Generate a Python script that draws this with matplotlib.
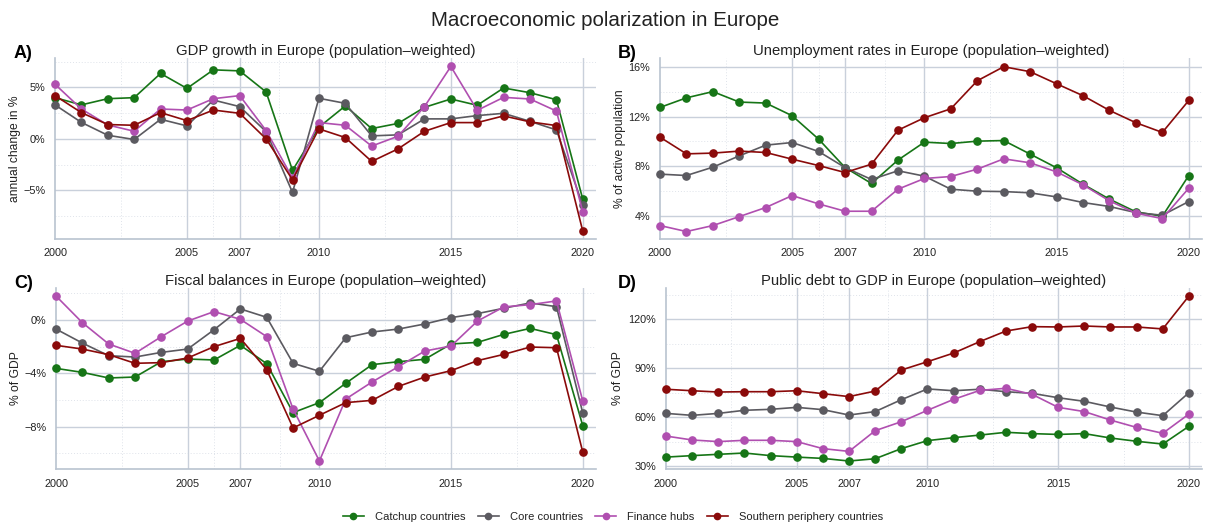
import matplotlib
matplotlib.use("Agg")
import matplotlib.pyplot as plt
from matplotlib.lines import Line2D

plt.rcParams['font.family'] = ['Liberation Sans', 'DejaVu Sans']

years = list(range(2000, 2021))
groups = ["Catchup countries", "Core countries", "Finance hubs", "Southern periphery countries"]
colors = ["#167516", "#5b5a60", "#b04fb0", "#8a0a0a"]

gdp_catchup = [4.0, 3.3, 3.9, 4.0, 6.35, 4.9, 6.7, 6.6, 4.55, -3.06, 1.13, 3.2, 1.0, 1.5, 3.06, 3.87, 3.26, 4.94, 4.48, 3.8, -5.87]
gdp_core = [3.3, 1.6, 0.35, -0.06, 1.9, 1.26, 3.77, 3.13, 0.7, -5.2, 3.94, 3.45, 0.29, 0.39, 1.94, 1.94, 2.26, 2.48, 1.7, 0.87, -6.45]
gdp_finance = [5.3, 2.9, 1.35, 0.74, 2.9, 2.8, 3.9, 4.2, 0.8, -3.8, 1.58, 1.32, -0.7, 0.26, 3.13, 7.03, 2.77, 4.03, 3.87, 2.7, -7.1]
gdp_south = [4.2, 2.55, 1.39, 1.32, 2.55, 1.77, 2.8, 2.48, 0.0, -3.97, 0.97, 0.13, -2.19, -0.97, 0.74, 1.58, 1.58, 2.23, 1.65, 1.29, -8.97]

unemp_catchup = [12.73, 13.5, 14.0, 13.16, 13.08, 12.06, 10.18, 7.9, 6.62, 8.5, 9.94, 9.83, 10.02, 10.07, 8.98, 7.88, 6.56, 5.36, 4.34, 3.99, 7.26]
unemp_core = [7.37, 7.26, 7.93, 8.84, 9.7, 9.91, 9.19, 7.9, 6.94, 7.64, 7.21, 6.16, 6.0, 5.97, 5.87, 5.54, 5.09, 4.77, 4.28, 4.07, 5.17]
unemp_finance = [3.24, 2.76, 3.24, 3.96, 4.69, 5.65, 4.98, 4.39, 4.39, 6.16, 7.02, 7.18, 7.77, 8.6, 8.28, 7.55, 6.51, 5.22, 4.23, 3.8, 6.24]
unemp_south = [10.34, 9.0, 9.06, 9.22, 9.11, 8.57, 8.06, 7.5, 8.17, 10.9, 11.9, 12.62, 14.87, 16.0, 15.6, 14.63, 13.67, 12.49, 11.5, 10.72, 13.29]

fisc_catchup = [-3.63, -3.93, -4.35, -4.28, -3.13, -2.93, -3.0, -1.9, -3.28, -6.95, -6.2, -4.75, -3.35, -3.13, -2.95, -1.8, -1.68, -1.08, -0.63, -1.1, -7.95]
fisc_core = [-0.68, -1.73, -2.68, -2.78, -2.43, -2.18, -0.73, 0.83, 0.2, -3.25, -3.85, -1.33, -0.9, -0.68, -0.3, 0.18, 0.48, 0.88, 1.28, 1.0, -7.0]
fisc_finance = [1.8, -0.2, -1.8, -2.5, -1.25, -0.08, 0.63, 0.05, -1.25, -6.68, -10.58, -5.93, -4.65, -3.5, -2.33, -1.95, -0.08, 0.98, 1.15, 1.43, -6.1]
fisc_south = [-1.9, -2.18, -2.6, -3.25, -3.2, -2.85, -2.0, -1.38, -3.73, -8.1, -7.15, -6.2, -6.03, -4.98, -4.28, -3.8, -3.05, -2.58, -2.03, -2.08, -9.93]

debt_catchup = [35.5, 36.4, 37.2, 38.0, 36.4, 35.5, 34.7, 33.1, 34.5, 40.7, 45.6, 47.4, 49.0, 50.7, 49.9, 49.4, 49.9, 47.2, 45.2, 43.5, 54.4]
debt_core = [62.3, 61.1, 62.3, 64.2, 64.8, 66.0, 64.6, 61.3, 63.4, 70.7, 77.3, 76.2, 77.1, 75.6, 74.6, 71.9, 69.7, 66.2, 63.1, 60.9, 75.0]
debt_finance = [48.4, 46.0, 45.0, 45.8, 45.8, 45.0, 40.7, 39.0, 51.7, 57.2, 64.2, 70.9, 76.4, 77.7, 74.0, 66.0, 63.4, 58.2, 53.7, 50.1, 61.9]
debt_south = [77.1, 76.2, 75.4, 75.6, 75.6, 76.2, 74.4, 72.6, 76.0, 88.9, 94.0, 99.3, 106.3, 112.8, 115.5, 115.3, 115.9, 115.3, 115.3, 114.1, 134.3]

xticks = [2000, 2005, 2007, 2010, 2015, 2020]
xminor = [2002.5, 2006, 2008.5, 2012.5, 2017.5]

W, H = 1210, 527
fig = plt.figure(figsize=(W / 100, H / 100), dpi=100)

GRID = "#c9d0db"
MINOR = "#dfe3ea"
SPINE = "#b9c3d0"


def make_axes(l, r, t, b):
    return fig.add_axes([l / W, 1 - b / H, (r - l) / W, (b - t) / H])


panels = [
    dict(box=(55, 596, 58, 238.5), data=[gdp_catchup, gdp_core, gdp_finance, gdp_south],
         ylim=(-9.67, 7.85), yt=[-5, 0, 5], ymin=[-7.5, -2.5, 2.5, 7.5],
         ylabel="annual change in %", title="GDP growth in Europe (population\u2013weighted)",
         tag="A)", tagx=14, ylx=15),
    dict(box=(660, 1202, 58, 238.5), data=[unemp_catchup, unemp_core, unemp_finance, unemp_south],
         ylim=(2.2, 16.7), yt=[4, 8, 12, 16], ymin=[6, 10, 14],
         ylabel="% of active population", title="Unemployment rates in Europe (population\u2013weighted)",
         tag="B)", tagx=618, ylx=620),
    dict(box=(56, 596, 288, 469), data=[fisc_catchup, fisc_core, fisc_finance, fisc_south],
         ylim=(-11.18, 2.4), yt=[-8, -4, 0], ymin=[-10, -6, -2, 2],
         ylabel="% of GDP", title="Fiscal balances in Europe (population\u2013weighted)",
         tag="C)", tagx=14, ylx=16),
    dict(box=(666, 1202, 288, 469), data=[debt_catchup, debt_core, debt_finance, debt_south],
         ylim=(28.2, 139.2), yt=[30, 60, 90, 120], ymin=[45, 75, 105, 135],
         ylabel="% of GDP", title="Public debt to GDP in Europe (population\u2013weighted)",
         tag="D)", tagx=618, ylx=618),
]

for p in panels:
    l, r, t, b = p["box"]
    ax = make_axes(l, r, t, b)
    ax.set_xlim(2000, 2020.5)
    ax.set_ylim(*p["ylim"])
    for yv in p["ymin"]:
        ax.axhline(yv, color=MINOR, lw=0.7, ls=(0, (1, 2)), zorder=0)
    for xv in xminor:
        ax.axvline(xv, color=MINOR, lw=0.7, ls=(0, (1, 2)), zorder=0)
    for yv in p["yt"]:
        ax.axhline(yv, color=GRID, lw=1.0, zorder=0.5)
    for xv in xticks[1:]:
        ax.axvline(xv, color=GRID, lw=1.0, zorder=0.5)
    for vals, c in zip(p["data"], colors):
        ax.plot(years, vals, color=c, lw=1.2, marker="o", ms=5.2, mec=c, mfc=c, clip_on=False, zorder=3)
    ax.set_xticks(xticks)
    ax.set_xticklabels([str(x) for x in xticks])
    ax.set_yticks(p["yt"])
    ax.set_yticklabels([(("\u2212" if v < 0 else "") + f"{abs(v)}%") for v in p["yt"]])
    ax.tick_params(length=0, labelsize=7.8, colors="#222222", pad=7)
    for s in ["top", "right"]:
        ax.spines[s].set_visible(False)
    for s in ["left", "bottom"]:
        ax.spines[s].set_color(SPINE)
        ax.spines[s].set_linewidth(1.2)
    ax.set_facecolor("white")
    fig.text(p["ylx"] / W, 1 - ((t + b) / 2) / H, p["ylabel"], rotation=90, ha="center", va="center",
             fontsize=8.7, color="#222222")
    fig.text(((l + r) / 2) / W, 1 - (t - 7) / H, p["title"], ha="center", va="center", fontsize=10.7, color="#222222")
    fig.text(p["tagx"] / W, 1 - (t - 5) / H, p["tag"], ha="left", va="center", fontsize=13, fontweight="bold", color="black")

fig.text(605 / W, 1 - 20 / H, "Macroeconomic polarization in Europe", ha="center", va="center", fontsize=14.8, color="#222222")

handles = [Line2D([0], [0], color=c, lw=1.2, marker="o", ms=4.5, mfc=c, mec=c) for c in colors]
fig.legend(handles, groups, loc="center", bbox_to_anchor=(613 / W, 1 - 517 / H), ncol=4, frameon=False,
           fontsize=8, handlelength=1.9, handletextpad=1.0, columnspacing=1.1, labelcolor="#222222")

fig.savefig("out.png", dpi=100, facecolor="white")
